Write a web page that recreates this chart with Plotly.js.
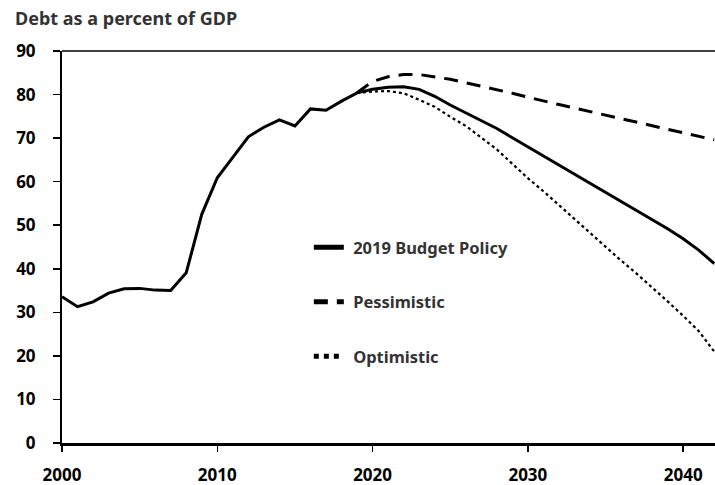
<!DOCTYPE html>
<html>
<head>
<meta charset="utf-8">
<script src="https://cdn.plot.ly/plotly-3.0.1.min.js"></script>
<style>html,body{margin:0;padding:0;background:#fff;}#chart{width:715px;height:485px;}</style>
</head>
<body>
<div id="chart"></div>
<script>
// Historical + 2019 Budget Policy path
const policyYears = [2000,2001,2002,2003,2004,2005,2006,2007,2008,2009,2010,2011,2012,2013,2014,2015,2016,2017,2018,2019,2020,2021,2022,2023,2024,2025,2026,2027,2028,2029,2030,2031,2032,2033,2034,2035,2036,2037,2038,2039,2040,2041,2042];
const policyValues = [33.6,31.3,32.4,34.4,35.4,35.5,35.1,35.0,39.1,52.5,60.9,65.7,70.3,72.5,74.2,72.8,76.7,76.4,78.5,80.4,81.2,81.7,81.8,81.2,79.6,77.6,75.8,74.0,72.2,70.1,68.0,65.9,63.8,61.7,59.7,57.7,55.6,53.5,51.3,49.2,46.9,44.3,41.2];

const scenarioYears = [2019,2020,2021,2022,2023,2024,2025,2026,2027,2028,2029,2030,2031,2032,2033,2034,2035,2036,2037,2038,2039,2040,2041,2042];
const pessimisticValues = [80.4,83.0,84.1,84.6,84.6,84.1,83.5,82.7,81.9,81.2,80.3,79.4,78.5,77.7,76.9,76.1,75.2,74.4,73.6,72.8,72.0,71.2,70.4,69.6];
const optimisticValues = [80.4,80.7,80.8,80.3,78.8,77.2,74.9,72.8,70.1,67.4,64.1,60.8,57.8,54.6,51.4,48.2,45.0,41.9,38.9,35.8,32.5,29.2,25.7,21.0];

const seriesNames = ["2019 Budget Policy","Pessimistic","Optimistic"];
const xTicks = [2000,2010,2020,2030,2040];
const yTicks = [0,10,20,30,40,50,60,70,80,90];
const titleText = "Debt as a percent of GDP";

const FONT = "'Noto Sans', 'Open Sans', sans-serif";
const NB = "\u00a0";

const traces = [
  {x: scenarioYears, y: pessimisticValues, name: NB + "<b>" + seriesNames[1] + "</b>", mode: "lines",
   line: {color: "#000", width: 3, dash: "14px,9px"}, legendrank: 2, legendgroup: "b"},
  {x: scenarioYears, y: optimisticValues, name: NB + "<b>" + seriesNames[2] + "</b>", mode: "lines",
   line: {color: "#000", width: 2.2, dash: "dot"}, legendrank: 3, legendgroup: "c"},
  {x: policyYears, y: policyValues, name: NB + "<b>" + seriesNames[0] + "</b>", mode: "lines",
   line: {color: "#000", width: 3}, legendrank: 1, legendgroup: "a"}
];

const layout = {
  width: 715, height: 485,
  margin: {l: 62, r: 0, t: 51, b: 42},
  paper_bgcolor: "#fff", plot_bgcolor: "#fff",
  font: {family: FONT, color: "#000"},
  title: {text: "<b>" + titleText + "</b>", xref: "container", yref: "container",
          x: 0.021, xanchor: "left", y: 0.961, yanchor: "middle",
          font: {family: FONT, size: 18, color: "#333"}},
  xaxis: {range: [2000, 2042.05], tickvals: xTicks, ticktext: xTicks.map(v => "<b>" + v + "</b>"),
          showgrid: false, zeroline: false, showline: true, linecolor: "#000", linewidth: 2.6,
          ticks: "outside", ticklen: 6, tickwidth: 1.5, tickcolor: "#000", ticklabelstandoff: 9,
          tickfont: {family: FONT, size: 17, color: "#000"}, fixedrange: true},
  yaxis: {range: [0, 90], tickvals: yTicks, ticktext: yTicks.map(v => "<b>" + v + "</b>"),
          showgrid: false, zeroline: false, showline: true, linecolor: "#000", linewidth: 2,
          ticks: "outside", ticklen: 7, tickwidth: 1.5, tickcolor: "#000", ticklabelstandoff: 14,
          tickfont: {family: FONT, size: 17, color: "#000"}, fixedrange: true},
  shapes: [{type: "line", xref: "paper", yref: "paper", x0: 0, x1: 1, y0: 1, y1: 1,
            line: {color: "#000", width: 1.5}}],
  showlegend: true,
  legend: {x: 0.378, y: 0.543, xanchor: "left", yanchor: "top", traceorder: "grouped",
           itemsizing: "constant",
           tracegroupgap: 30, bgcolor: "rgba(0,0,0,0)",
           font: {family: FONT, size: 16.5, color: "#333"}, itemwidth: 30}
};

Plotly.newPlot("chart", traces, layout, {staticPlot: true, displayModeBar: false});
</script>
</body>
</html>
